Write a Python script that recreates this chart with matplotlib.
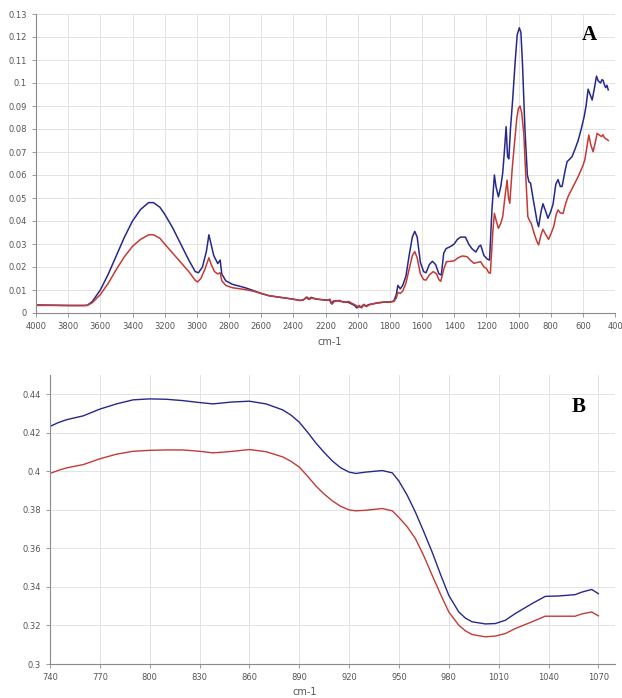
import matplotlib.pyplot as plt

# panel A: FTIR spectra (wavenumber cm-1, absorbance)
wn_a_blue = [4000, 3900, 3800, 3700, 3680, 3650, 3600, 3550, 3500, 3450, 3400, 3350, 3300, 3270, 3230, 3200,
             3150, 3100, 3050, 3010, 2990, 2965, 2940, 2925, 2915, 2895, 2870, 2855, 2845, 2820, 2780, 2700,
             2650, 2600, 2550, 2500, 2450, 2400, 2360, 2340, 2320, 2305, 2290, 2270, 2250, 2220, 2190, 2175,
             2165, 2150, 2120, 2090, 2060, 2040, 2020, 2005, 1995, 1980, 1965, 1950, 1930, 1900, 1870, 1840,
             1800, 1775, 1760, 1750, 1735, 1720, 1700, 1680, 1660, 1645, 1630, 1610, 1590, 1575, 1555, 1535,
             1515, 1495, 1480, 1465, 1450, 1420, 1400, 1380, 1360, 1330, 1310, 1290, 1265, 1245, 1235, 1215,
             1195, 1180, 1165, 1150, 1140, 1125, 1110, 1098, 1088, 1077, 1068, 1060, 1050, 1036, 1020, 1008,
             995, 985, 975, 960, 945, 935, 925, 910, 900, 885, 875, 860, 848, 830, 817, 800, 785, 768, 754,
             740, 729, 710, 698, 680, 667, 650, 629, 610, 592, 580, 567, 555, 542, 530, 515, 505, 490, 480,
             473, 465, 458, 450, 442]
abs_a_blue = [0.0035, 0.0034, 0.0033, 0.0033, 0.0034, 0.005, 0.010, 0.017, 0.025, 0.033, 0.040, 0.045, 0.048,
              0.048, 0.046, 0.043, 0.037, 0.030, 0.023, 0.018, 0.0175, 0.020, 0.027, 0.034, 0.031, 0.025,
              0.0215, 0.023, 0.017, 0.014, 0.0125, 0.011, 0.0098, 0.0085, 0.0075, 0.007, 0.0065, 0.006,
              0.0055, 0.0056, 0.0068, 0.006, 0.0068, 0.0062, 0.006, 0.0058, 0.0055, 0.0058, 0.0042, 0.0052,
              0.0053, 0.0048, 0.0047, 0.004, 0.0033, 0.0022, 0.0028, 0.0025, 0.0035, 0.003, 0.0037, 0.004,
              0.0045, 0.0047, 0.0048, 0.0052, 0.008, 0.012, 0.0105, 0.012, 0.016, 0.025, 0.033, 0.0355, 0.033,
              0.022, 0.018, 0.0175, 0.021, 0.0225, 0.021, 0.017, 0.0165, 0.026, 0.028, 0.029, 0.030, 0.032,
              0.033, 0.033, 0.030, 0.028, 0.0265, 0.029, 0.0295, 0.025, 0.0235, 0.023, 0.045, 0.060, 0.055,
              0.0505, 0.055, 0.061, 0.070, 0.081, 0.068, 0.067, 0.080, 0.093, 0.110, 0.121, 0.124, 0.122,
              0.108, 0.080, 0.060, 0.057, 0.0565, 0.050, 0.046, 0.040, 0.0375, 0.044, 0.0475, 0.044, 0.0412,
              0.044, 0.0474, 0.056, 0.058, 0.055, 0.055, 0.062, 0.0658, 0.067, 0.068, 0.071, 0.075, 0.080,
              0.0853, 0.090, 0.0973, 0.095, 0.0926, 0.097, 0.103, 0.101, 0.100, 0.1015, 0.101, 0.099, 0.098,
              0.099, 0.097]

wn_a_red = [4000, 3900, 3800, 3700, 3680, 3650, 3600, 3550, 3500, 3450, 3400, 3350, 3300, 3270, 3230, 3200,
            3150, 3100, 3050, 3010, 2995, 2975, 2950, 2925, 2910, 2890, 2870, 2855, 2845, 2820, 2780, 2700,
            2650, 2600, 2550, 2500, 2450, 2400, 2360, 2335, 2315, 2300, 2285, 2265, 2240, 2215, 2190, 2172,
            2160, 2145, 2115, 2085, 2055, 2035, 2015, 2000, 1990, 1975, 1960, 1945, 1925, 1895, 1865, 1835,
            1800, 1775, 1760, 1750, 1735, 1720, 1700, 1680, 1660, 1645, 1630, 1610, 1590, 1575, 1555, 1530,
            1510, 1495, 1483, 1465, 1448, 1420, 1400, 1375, 1350, 1320, 1300, 1277, 1255, 1235, 1215, 1200,
            1185, 1175, 1160, 1150, 1138, 1125, 1110, 1098, 1085, 1071, 1062, 1054, 1040, 1025, 1010, 1000,
            990, 980, 967, 955, 942, 930, 921, 900, 885, 875, 860, 848, 830, 813, 795, 781, 765, 754, 740,
            723, 705, 692, 660, 629, 600, 588, 575, 563, 550, 536, 520, 511, 500, 483, 475, 463, 450, 442]
abs_a_red = [0.0033, 0.0033, 0.0032, 0.0032, 0.0033, 0.0045, 0.008, 0.013, 0.019, 0.0245, 0.029, 0.032, 0.034,
             0.034, 0.0325, 0.030, 0.026, 0.022, 0.018, 0.0142, 0.0135, 0.015, 0.019, 0.024, 0.021, 0.018,
             0.017, 0.0175, 0.014, 0.012, 0.011, 0.0102, 0.0095, 0.0085, 0.0075, 0.007, 0.0065, 0.006,
             0.0054, 0.0058, 0.007, 0.0059, 0.0066, 0.0063, 0.0059, 0.0057, 0.0056, 0.006, 0.0038, 0.005,
             0.0055, 0.0046, 0.005, 0.0042, 0.0035, 0.0028, 0.0033, 0.0022, 0.0038, 0.0028, 0.0036, 0.0042,
             0.0044, 0.0048, 0.0047, 0.005, 0.0065, 0.009, 0.0085, 0.0095, 0.013, 0.019, 0.025, 0.0267,
             0.024, 0.017, 0.0145, 0.0143, 0.0165, 0.018, 0.017, 0.0145, 0.0138, 0.019, 0.0223, 0.0225,
             0.0227, 0.024, 0.0248, 0.0245, 0.023, 0.0216, 0.022, 0.0223, 0.020, 0.0194, 0.0175, 0.0173,
             0.035, 0.0433, 0.040, 0.0368, 0.039, 0.0419, 0.050, 0.0578, 0.050, 0.0477, 0.062, 0.0738,
             0.085, 0.089, 0.090, 0.087, 0.078, 0.060, 0.0419, 0.040, 0.039, 0.034, 0.031, 0.0296, 0.034,
             0.0364, 0.034, 0.032, 0.035, 0.0376, 0.043, 0.0448, 0.0435, 0.0433, 0.048, 0.0506, 0.055,
             0.0593, 0.064, 0.0665, 0.072, 0.0774, 0.073, 0.0701, 0.075, 0.0781, 0.0775, 0.0767, 0.0775,
             0.076, 0.0755, 0.075]

# panel B: 740-1070 cm-1 region
wn_b = [740, 745, 750, 760, 770, 780, 790, 800, 810, 820, 830, 838, 845, 850, 860, 870, 880, 885, 890, 895,
        900, 905, 910, 915, 920, 924, 930, 940, 946, 950, 955, 960, 965, 970, 975, 980, 986, 990, 994, 1002,
        1008, 1014, 1020, 1030, 1038, 1046, 1056, 1060, 1066, 1070]
abs_b_blue = [0.4233, 0.4253, 0.4268, 0.4288, 0.4323, 0.4350, 0.4371, 0.4376, 0.4374, 0.4367, 0.4357, 0.4350,
              0.4356, 0.4360, 0.4364, 0.4350, 0.4319, 0.4292, 0.4255, 0.4203, 0.4147, 0.4098, 0.4053, 0.4018,
              0.3996, 0.3989, 0.3996, 0.4004, 0.3992, 0.3949, 0.3875, 0.3786, 0.3685, 0.3580, 0.3465, 0.3356,
              0.3270, 0.3238, 0.3219, 0.3208, 0.3210, 0.3227, 0.3262, 0.3313, 0.3351, 0.3353, 0.3360, 0.3373,
              0.3387, 0.3365]
abs_b_red = [0.3989, 0.4005, 0.4018, 0.4035, 0.4065, 0.4089, 0.4104, 0.4109, 0.4111, 0.4111, 0.4104, 0.4096,
             0.4100, 0.4104, 0.4113, 0.4102, 0.4075, 0.4052, 0.4022, 0.3975, 0.3924, 0.3882, 0.3846, 0.3818,
             0.3800, 0.3795, 0.3798, 0.3807, 0.3795, 0.3760, 0.3712, 0.3649, 0.3560, 0.3460, 0.3362, 0.3270,
             0.3201, 0.3172, 0.3153, 0.3141, 0.3145, 0.3158, 0.3184, 0.3219, 0.3248, 0.3248, 0.3248, 0.3260,
             0.3270, 0.3250]

blue = '#26298a'
red = '#c33b36'
grid_c = '#e3e3e3'
spine_c = '#8a8a8a'
tick_c = '#555555'

fig = plt.figure(figsize=(6.22, 6.98), dpi=100)
W, H = 622, 698


def style(ax):
    for s in ['top', 'right']:
        ax.spines[s].set_visible(False)
    for s in ['left', 'bottom']:
        ax.spines[s].set_color(spine_c)
        ax.spines[s].set_linewidth(0.8)
    ax.grid(True, color=grid_c, linewidth=0.7)
    ax.set_axisbelow(True)
    ax.tick_params(colors=spine_c, labelcolor=tick_c, labelsize=6, length=3, width=0.6)


axA = fig.add_axes([36 / W, (H - 313) / H, (615 - 36) / W, (313 - 14) / H])
axA.plot(wn_a_blue, abs_a_blue, color=blue, lw=1.1)
axA.plot(wn_a_red, abs_a_red, color=red, lw=1.1)
axA.set_xlim(4000, 400)
axA.set_ylim(0, 0.13)
axA.set_xticks(range(4000, 399, -200))
axA.set_yticks([i / 100 for i in range(14)])
axA.set_yticklabels(['0'] + ['%g' % (i / 100) for i in range(1, 14)])
style(axA)
axA.set_xlabel('cm-1', fontsize=7, color=tick_c)
axA.xaxis.set_label_coords((330 - 36) / (615 - 36), -(337 - 313) / (313 - 14))
axA.text(0.955, 0.93, 'A', transform=axA.transAxes, fontsize=15, fontweight='bold',
         family='Liberation Serif', ha='center', va='center')

axB = fig.add_axes([50 / W, (H - 664) / H, (615 - 50) / W, (664 - 375) / H])
axB.plot(wn_b, abs_b_blue, color=blue, lw=1.0)
axB.plot(wn_b, abs_b_red, color=red, lw=1.0)
axB.set_xlim(740, 1080)
axB.set_ylim(0.3, 0.45)
axB.set_xticks(range(740, 1071, 30))
axB.set_yticks([0.3, 0.32, 0.34, 0.36, 0.38, 0.4, 0.42, 0.44])
axB.set_yticklabels(['0.3', '0.32', '0.34', '0.36', '0.38', '0.4', '0.42', '0.44'])
style(axB)
axB.set_xlabel('cm-1', fontsize=7, color=tick_c, va='center')
axB.xaxis.set_label_coords((305 - 50) / (615 - 50), -(692 - 664) / (664 - 375))
axB.text(0.935, 0.89, 'B', transform=axB.transAxes, fontsize=15, fontweight='bold',
         family='Liberation Serif', ha='center', va='center')

fig.savefig('out.png', dpi=100)
